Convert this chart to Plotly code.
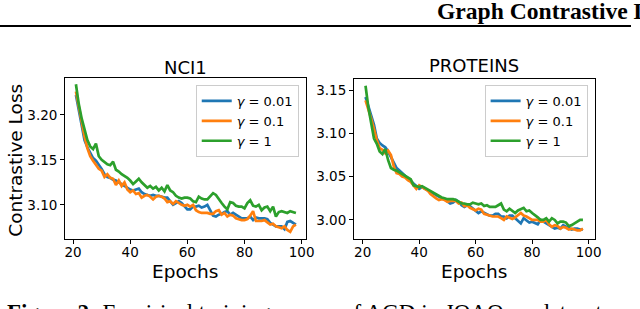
import plotly.graph_objects as go

W, H = 640, 309

epochs = list(range(21, 99))

nci1_g001 = [3.222, 3.205, 3.189, 3.172, 3.164, 3.157, 3.152, 3.149, 3.145, 3.140,
             3.134, 3.131, 3.130, 3.128, 3.127, 3.125, 3.123, 3.121, 3.119, 3.117,
             3.116, 3.117, 3.118, 3.114, 3.112, 3.111, 3.110, 3.111, 3.110, 3.110,
             3.109, 3.108, 3.108, 3.104, 3.100, 3.102, 3.104, 3.102, 3.099, 3.095,
             3.095, 3.098, 3.098, 3.099, 3.097, 3.098, 3.100, 3.093, 3.088, 3.087,
             3.089, 3.090, 3.092, 3.093, 3.089, 3.091, 3.089, 3.087, 3.085, 3.085,
             3.085, 3.087, 3.083, 3.086, 3.085, 3.085, 3.085, 3.084, 3.080, 3.078,
             3.076, 3.076, 3.076, 3.073, 3.081, 3.082, 3.080, 3.078]
nci1_g01 = [3.226, 3.208, 3.192, 3.176, 3.163, 3.154, 3.149, 3.145, 3.140, 3.138,
            3.131, 3.134, 3.130, 3.129, 3.122, 3.127, 3.121, 3.125, 3.117, 3.114,
            3.116, 3.112, 3.113, 3.108, 3.110, 3.111, 3.109, 3.106, 3.109, 3.110,
            3.109, 3.107, 3.103, 3.104, 3.101, 3.104, 3.102, 3.100, 3.099, 3.100,
            3.098, 3.100, 3.094, 3.092, 3.091, 3.091, 3.091, 3.090, 3.090, 3.093,
            3.094, 3.089, 3.091, 3.087, 3.089, 3.088, 3.085, 3.084, 3.083, 3.083,
            3.084, 3.088, 3.093, 3.082, 3.082, 3.082, 3.083, 3.080, 3.078, 3.079,
            3.076, 3.075, 3.074, 3.076, 3.072, 3.070, 3.076, 3.078]
nci1_g1 = [3.234, 3.212, 3.196, 3.183, 3.172, 3.165, 3.162, 3.168, 3.154, 3.150,
           3.147, 3.145, 3.144, 3.148, 3.139, 3.137, 3.134, 3.132, 3.130, 3.127,
           3.123, 3.126, 3.129, 3.125, 3.122, 3.119, 3.121, 3.118, 3.120, 3.116,
           3.119, 3.115, 3.122, 3.116, 3.114, 3.110, 3.108, 3.107, 3.108, 3.108,
           3.107, 3.104, 3.103, 3.109, 3.107, 3.106, 3.106, 3.110, 3.113, 3.111,
           3.106, 3.102, 3.098, 3.095, 3.103, 3.102, 3.099, 3.098, 3.098, 3.096,
           3.102, 3.105, 3.099, 3.098, 3.100, 3.094, 3.097, 3.098, 3.093, 3.098,
           3.087, 3.092, 3.093, 3.092, 3.091, 3.093, 3.092, 3.091]

prot_g001 = [3.142, 3.131, 3.121, 3.110, 3.094, 3.089, 3.086, 3.084, 3.079, 3.072,
             3.066, 3.060, 3.057, 3.054, 3.051, 3.048, 3.045, 3.041, 3.039, 3.036,
             3.038, 3.036, 3.034, 3.032, 3.030, 3.028, 3.027, 3.025, 3.024, 3.022,
             3.019, 3.020, 3.023, 3.021, 3.017, 3.015, 3.017, 3.016, 3.013, 3.011,
             3.008, 3.010, 3.008, 3.006, 3.005, 3.005, 3.007, 3.007, 3.004, 3.004,
             3.002, 3.005, 3.005, 3.002, 2.999, 2.996, 3.002, 2.999, 2.997, 2.998,
             2.996, 2.995, 3.000, 2.998, 2.996, 2.995, 2.992, 2.990, 2.991, 2.990,
             2.994, 2.992, 2.991, 2.989, 2.990, 2.990, 2.989, 2.989]
prot_g01 = [3.138, 3.128, 3.117, 3.105, 3.092, 3.083, 3.081, 3.077, 3.080, 3.075,
            3.062, 3.054, 3.053, 3.050, 3.049, 3.046, 3.044, 3.040, 3.036, 3.040,
            3.038, 3.036, 3.034, 3.030, 3.027, 3.025, 3.023, 3.024, 3.023, 3.021,
            3.022, 3.022, 3.022, 3.019, 3.020, 3.016, 3.017, 3.014, 3.012, 3.011,
            3.013, 3.012, 3.007, 3.006, 3.005, 3.004, 3.004, 3.004, 3.002, 3.000,
            3.004, 3.002, 3.001, 3.003, 3.006, 3.008, 3.005, 3.004, 3.002, 3.000,
            3.000, 3.000, 2.998, 2.998, 3.000, 2.995, 2.992, 2.994, 2.993, 2.990,
            2.992, 2.991, 2.989, 2.990, 2.989, 2.988, 2.988, 2.990]
prot_g1 = [3.155, 3.130, 3.112, 3.094, 3.088, 3.079, 3.076, 3.082, 3.069, 3.060,
           3.058, 3.057, 3.055, 3.053, 3.052, 3.050, 3.047, 3.040, 3.039, 3.038,
           3.039, 3.037, 3.035, 3.034, 3.032, 3.030, 3.028, 3.026, 3.025, 3.024,
           3.024, 3.024, 3.023, 3.021, 3.019, 3.019, 3.018, 3.018, 3.020, 3.019,
           3.018, 3.019, 3.016, 3.017, 3.015, 3.015, 3.015, 3.017, 3.019, 3.012,
           3.010, 3.013, 3.010, 3.008, 3.011, 3.013, 3.014, 3.010, 3.011, 3.008,
           3.006, 3.003, 3.000, 3.000, 3.002, 2.998, 3.002, 3.000, 2.996, 2.998,
           2.998, 2.997, 2.993, 2.994, 2.996, 2.998, 3.000, 3.000]

series_names = ["<i>γ</i> = 0.01", "<i>γ</i> = 0.1", "<i>γ</i> = 1"]
colors = ["#1f77b4", "#ff7f0e", "#2ca02c"]
nci1_ticks = [3.10, 3.15, 3.20]
prot_ticks = [3.00, 3.05, 3.10, 3.15]
x_ticks = [20, 40, 60, 80, 100]

def px_x(p):
    return p / W

def px_y(p):
    return 1 - p / H

SANS = "DejaVu Sans"
SERIF = "Liberation Serif"

fig = go.Figure()
for ys, name, c in zip([nci1_g001, nci1_g01, nci1_g1], series_names, colors):
    fig.add_trace(go.Scatter(x=epochs, y=ys, mode="lines", name=name,
                             line=dict(color=c, width=2.7), xaxis="x", yaxis="y",
                             legend="legend"))
for ys, name, c in zip([prot_g001, prot_g01, prot_g1], series_names, colors):
    fig.add_trace(go.Scatter(x=epochs, y=ys, mode="lines", name=name,
                             line=dict(color=c, width=2.7), xaxis="x2", yaxis="y2",
                             legend="legend2"))

axis_common = dict(showline=True, mirror=True, linecolor="black", linewidth=1,
                   ticks="outside", ticklen=4, tickwidth=1, tickcolor="black",
                   showgrid=False, zeroline=False,
                   tickfont=dict(family=SANS, size=13.5, color="black"))

legend_common = dict(font=dict(family=SANS, size=13, color="black"),
                     bgcolor="rgba(255,255,255,0.85)", bordercolor="#cccccc",
                     borderwidth=1, xanchor="right", yanchor="top")

fig.update_layout(
    width=W, height=H, margin=dict(l=0, r=0, t=0, b=0),
    paper_bgcolor="white", plot_bgcolor="white",
    xaxis=dict(domain=[px_x(66), px_x(310)], range=[17.2, 101.4], tickvals=x_ticks,
               anchor="y", ticklabelstandoff=-3, **axis_common),
    yaxis=dict(domain=[px_y(239), px_y(78)], range=[3.062, 3.241], tickvals=nci1_ticks,
               tickformat=".2f", anchor="x", **axis_common),
    xaxis2=dict(domain=[px_x(359), px_x(603)], range=[16.9, 102.1], tickvals=x_ticks,
                anchor="y2", ticklabelstandoff=-3, **axis_common),
    yaxis2=dict(domain=[px_y(239), px_y(79)], range=[2.978, 3.1628], tickvals=prot_ticks,
                tickformat=".2f", anchor="x2", **axis_common),
    legend=dict(x=px_x(303), y=px_y(85), **legend_common),
    legend2=dict(x=px_x(596), y=px_y(85), **legend_common),
)

def text(t, x, y, size, family=SANS, xanchor="center", yanchor="middle", angle=0):
    fig.add_annotation(text=t, x=px_x(x), y=px_y(y), xref="paper", yref="paper",
                       showarrow=False, xanchor=xanchor, yanchor=yanchor,
                       textangle=angle, font=dict(family=family, size=size, color="black"))

text("NCI1", 188, 67, 18)
text("PROTEINS", 481, 65, 18)
text("Epochs", 188, 271, 18.5)
text("Epochs", 481, 271, 18.5)
text("Contrastive Loss", 15, 160, 18.5, angle=-90)
text("<b>Graph Contrastive Learning</b>", 441, 11, 23.6, family=SERIF, xanchor="left")
text("<b>Figure 2:</b> Empirical training curves of AGD in JOAO on datasets",
     5, 312, 23, family=SERIF, xanchor="left")

fig.add_shape(type="line", xref="paper", yref="paper", x0=0, x1=1,
              y0=px_y(26), y1=px_y(26), line=dict(color="black", width=2))

fig.write_html("out.html", config={"displayModeBar": False},
               post_script="document.body.style.margin='0';"
                           "document.body.style.overflow='hidden';")
